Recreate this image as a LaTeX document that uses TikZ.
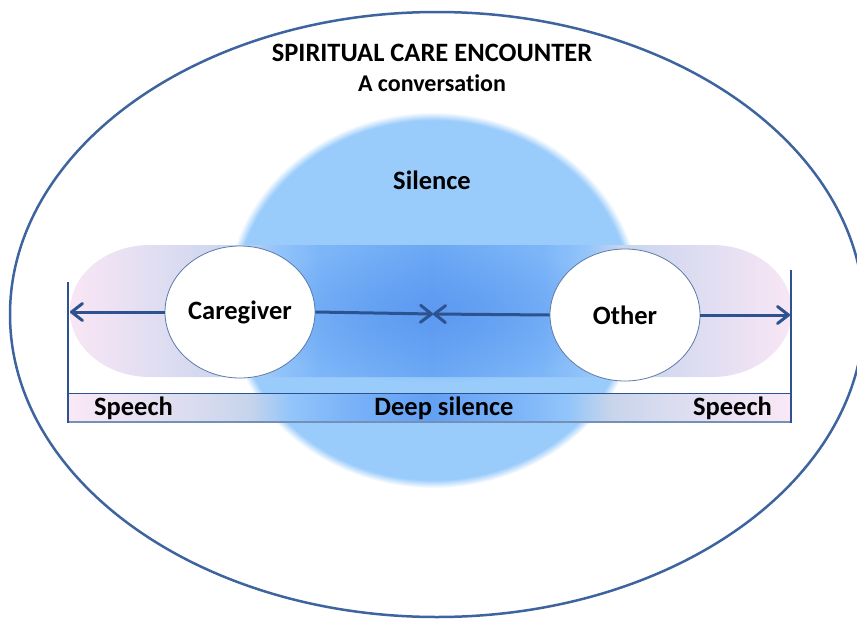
\documentclass[tikz,border=0pt]{standalone}
\usepackage{fontspec}
\setmainfont{Carlito}[Ligatures={NoCommon,NoContextual}]
\usetikzlibrary{shapes.geometric,arrows.meta,fadings}
\definecolor{edgeblue}{HTML}{3D649E}
\definecolor{linblue}{HTML}{2C5390}
\definecolor{blobc}{HTML}{99CBFB}
\definecolor{pk}{HTML}{F8E6F5}
\definecolor{lav}{HTML}{E2DEF2}
\definecolor{gb}{HTML}{C9D5EE}
\definecolor{blA}{HTML}{94C4FA}
\definecolor{blB}{HTML}{7DB6F8}
\definecolor{blC}{HTML}{6DA9F5}
\definecolor{bpk}{HTML}{FAE8F6}
\definecolor{blav}{HTML}{D8DBEF}
\definecolor{bgb}{HTML}{C6D4EB}
\definecolor{bbA}{HTML}{92C5FA}
\definecolor{bbB}{HTML}{7DB5F8}
\definecolor{bbC}{HTML}{62A0F3}
\definecolor{deepc}{HTML}{5593EF}
\definecolor{barbot}{HTML}{7590B8}
\definecolor{ellborder}{HTML}{5A7AA8}
\pgfdeclareradialshading{blobsh}{\pgfpoint{0bp}{0bp}}{color(0bp)=(blobc); color(23.9bp)=(blobc); color(25bp)=(white); color(50bp)=(white)}
\pgfdeclarehorizontalshading{pillsh}{100bp}{color(0bp)=(pk); color(25bp)=(pk); color(30.5bp)=(lav); color(36.8bp)=(gb); color(39.2bp)=(blA); color(42.3bp)=(blB); color(50bp)=(blC); color(57.7bp)=(blB); color(60.8bp)=(blA); color(63.2bp)=(gb); color(69.5bp)=(lav); color(75bp)=(pk); color(100bp)=(pk)}
\pgfdeclarehorizontalshading{barsh}{100bp}{color(0bp)=(bpk); color(25bp)=(bpk); color(34bp)=(blav); color(37.6bp)=(bgb); color(40.4bp)=(bbA); color(43.8bp)=(bbB); color(50bp)=(bbC); color(56.2bp)=(bbB); color(59.6bp)=(bbA); color(62.4bp)=(bgb); color(66bp)=(blav); color(75bp)=(bpk); color(100bp)=(bpk)}
\tikzfading[name=centerfade, inner color=transparent!30, outer color=transparent!100]
\tikzset{
  lbl/.style={font=\fontsize{26.5}{30}\selectfont\bfseries, anchor=base, inner sep=0pt},
  person/.style={ellipse, draw=ellborder, line width=0.8pt, fill=white, minimum width=150pt, minimum height=132pt, inner sep=0pt, font=\fontsize{26.5}{30}\selectfont\bfseries},
  conn/.style={draw=linblue, line width=3pt, -{Straight Barb[length=11pt,width=17pt,round]}},
  vline/.style={draw=linblue, line width=2pt}
}
\begin{document}
\begin{tikzpicture}[x=1pt,y=-1pt]
\useasboundingbox (0,0) rectangle (857,619);
\clip (0,0) rectangle (857,619);
% outer ellipse
\draw[edgeblue, line width=2.5pt] (437,314.5) ellipse (427 and 302.5);
% silence blob
\shade[shading=blobsh] (433,300) ellipse (207 and 188);
% pill
\shade[shading=pillsh] (150,245) -- (712,245) arc[start angle=-90, end angle=90, x radius=80, y radius=66] -- (150,377) arc[start angle=90, end angle=270, x radius=80, y radius=66] -- cycle;
\fill[deepc, path fading=centerfade] (433,313) ellipse (190 and 70);
% bar
\shade[shading=barsh] (68,393) rectangle (791,422);
\draw[linblue, line width=1pt] (68,393) -- (791,393);
\draw[barbot, line width=2pt] (69,421.5) -- (791,421.5);
% vertical limits
\coordinate (lvt) at (68,282);
\coordinate (lvb) at (68,423);
\coordinate (rvt) at (791,270);
\coordinate (rvb) at (791,423);
\draw[vline, line width=2.5pt] (lvt) -- (lvb);
\draw[vline, line width=1.5pt] (rvt) -- (rvb);
% persons
\node[person] (cg) at (240,312) {Caregiver};
\node[person] (ot) at (625,315) {Other};
\coordinate (lend) at (70,312);
\coordinate (rend) at (790,315);
\coordinate (mid) at (433,314);
\draw[conn] (cg.west) -- (lend);
\draw[conn] (ot.east) -- (rend);
\draw[conn] (cg.east) -- (mid);
\draw[conn] (ot.west) -- (mid);
% texts
\node[lbl] (title) at (432,61) {SPIRITUAL CARE ENCOUNTER};
\node[lbl, font=\fontsize{24}{28}\selectfont\bfseries] (sub) at (432,91) {A conversation};
\node[lbl] (sil) at (432,189) {Silence};
\node[lbl] (sp1) at (133.5,415) {Speech};
\node[lbl] (deep) at (444,415) {Deep silence};
\node[lbl] (sp2) at (732.5,415) {Speech};
\end{tikzpicture}
\end{document}
